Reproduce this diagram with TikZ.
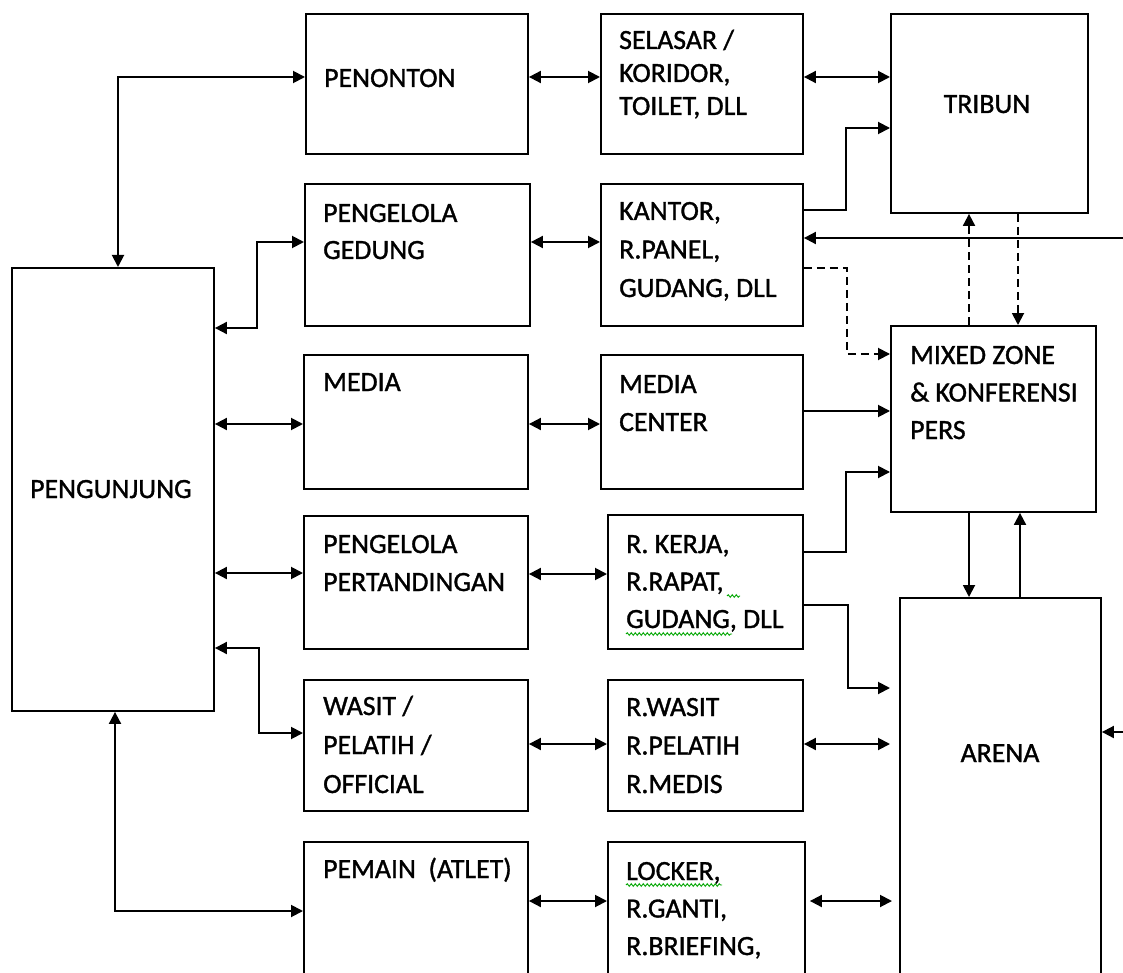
\documentclass[tikz,border=0pt]{standalone}
\usepackage{fontspec}
\setmainfont{Carlito}
\newfontfamily\diagfont{Carlito}[FakeBold=1.2]
\usetikzlibrary{arrows.meta,decorations.pathmorphing}
\newcommand\boxlines[2]{{\diagfont\fontsize{27.8}{#1}\selectfont\renewcommand\arraystretch{1}\begin{tabular}[t]{@{}l@{}}#2\end{tabular}}}
\begin{document}
\begin{tikzpicture}[x=1pt,y=-1pt,
  box/.style={draw, line width=1.9pt, inner sep=0pt, anchor=north west},
  txt/.style={inner sep=0pt, anchor=base west, font=\diagfont\fontsize{27.8}{37}\selectfont},
  con/.style={line width=1.9pt},
  ar/.style={con, -{Triangle[length=12pt,width=12pt]}},
  dar/.style={con, {Triangle[length=12pt,width=12pt]}-{Triangle[length=12pt,width=12pt]}},
  dsh/.style={dash pattern=on 8pt off 5pt},
  squig/.style={draw=green!65!black, line width=0.9pt, decorate, decoration={snake, amplitude=1.3pt, segment length=4pt}}]
\useasboundingbox (0,0) rectangle (1123,973);
\clip (0,0) rectangle (1123,973);
\fill[white] (0,0) rectangle (1123,973);
% boxes
\node[box, minimum width=222pt, minimum height=140pt] (penonton) at (305,13) {};
\node[box, minimum width=225pt, minimum height=142pt] (gedung) at (304,183) {};
\node[box, minimum width=202pt, minimum height=443pt] (pengunjung) at (11,267) {};
\node[box, minimum width=224pt, minimum height=134pt] (media) at (303,354) {};
\node[box, minimum width=224pt, minimum height=133pt] (pertandingan) at (303,515) {};
\node[box, minimum width=224pt, minimum height=131pt] (wasit) at (303,679) {};
\node[box, minimum width=224pt, minimum height=200pt] (pemain) at (303,841) {};
\node[box, minimum width=202pt, minimum height=140pt] (selasar) at (600,13) {};
\node[box, minimum width=202pt, minimum height=142pt] (kantor) at (600,183) {};
\node[box, minimum width=202pt, minimum height=134pt] (mediacenter) at (600,354) {};
\node[box, minimum width=195pt, minimum height=134pt] (kerja) at (607,514) {};
\node[box, minimum width=195pt, minimum height=131pt] (rwasit) at (607,679) {};
\node[box, minimum width=197pt, minimum height=200pt] (locker) at (607,841) {};
\node[box, minimum width=197pt, minimum height=199pt] (tribun) at (890,13) {};
\node[box, minimum width=205pt, minimum height=186pt] (mixed) at (890,325) {};
\node[box, minimum width=201pt, minimum height=400pt] (arena) at (899,597) {};
% texts
\node[txt] (tpenonton) at (324,87) {PENONTON};
\node[txt] (tgedung) at (323,222) {\boxlines{37}{PENGELOLA\\GEDUNG}};
\node[txt] (tpengunjung) at (30,498) {PENGUNJUNG};
\node[txt] (tmedia) at (323,391) {MEDIA};
\node[txt] (tpertandingan) at (323,553) {\boxlines{38}{PENGELOLA\\PERTANDINGAN}};
\node[txt] (twasit) at (323,715) {\boxlines{39}{WASIT /\\PELATIH /\\OFFICIAL}};
\node[txt] (tpemain) at (323,878) {PEMAIN\ \ (ATLET)};
\node[txt] (tselasar) at (619,49) {\boxlines{33}{SELASAR /\\KORIDOR,\\TOILET, DLL}};
\node[txt] (tkantor) at (619,220) {\boxlines{38.5}{KANTOR,\\R.PANEL,\\GUDANG, DLL}};
\node[txt] (tmediacenter) at (619,393) {\boxlines{38}{MEDIA\\CENTER}};
\node[txt, anchor=base] (ttribun) at (987,113) {TRIBUN};
\node[txt] (tmixed) at (910,364) {\boxlines{37.5}{MIXED ZONE\\\& KONFERENSI\\PERS}};
\node[txt] (tkerja) at (626,553) {\boxlines{37.5}{R. KERJA,\\R.RAPAT,\\GUDANG, DLL}};
\node[txt] (trwasit) at (626,716) {\boxlines{38.5}{R.WASIT\\R.PELATIH\\R.MEDIS}};
\node[txt, anchor=base] (tarena) at (1000,762) {ARENA};
\node[txt] (tlocker) at (626,880) {\boxlines{37.5}{LOCKER,\\R.GANTI,\\R.BRIEFING,}};
% spell-check marks
\draw[squig] (626,634) -- (732,634);
\draw[squig] (727,596) -- (740,596);
\draw[squig] (626,885) -- (722,885);
% free ends
\coordinate (e1) at (1123,238);
\coordinate (e2) at (1123,732);
% left connectors
\draw[dar] (pengunjung.north -| 118,0) |- (penonton.west |- 0,77);
\draw[dar] (pengunjung.east |- 0,328) -- (257,328) |- (gedung.west |- 0,242);
\draw[dar] (pengunjung.east |- 0,424) -- (media.west |- 0,424);
\draw[dar] (pengunjung.east |- 0,573) -- (pertandingan.west |- 0,573);
\draw[dar] (pengunjung.east |- 0,648) -- (259,648) |- (wasit.west |- 0,733);
\draw[dar] (pengunjung.south -| 115,0) |- (pemain.west |- 0,911);
% middle connectors
\draw[dar] (penonton.east |- 0,77) -- (selasar.west |- 0,77);
\draw[dar] (gedung.east |- 0,242) -- (kantor.west |- 0,242);
\draw[dar] (media.east |- 0,424) -- (mediacenter.west |- 0,424);
\draw[dar] (pertandingan.east |- 0,574) -- (kerja.west |- 0,574);
\draw[dar] (wasit.east |- 0,744) -- (rwasit.west |- 0,744);
\draw[dar] (pemain.east |- 0,901) -- (locker.west |- 0,901);
% right connectors
\draw[dar] (selasar.east |- 0,77) -- (tribun.west |- 0,77);
\draw[ar] (kantor.east |- 0,210) -- (846,210) |- (tribun.west |- 0,128);
\draw[ar] (e1) -- (kantor.east |- e1);
\draw[ar,dsh] (kantor.east |- 0,268) -- (847,268) |- (mixed.west |- 0,354);
\draw[ar,dsh] (mixed.north -| 969,0) -- (tribun.south -| 969,0);
\draw[ar,dsh] (tribun.south -| 1018,0) -- (mixed.north -| 1018,0);
\draw[ar] (mediacenter.east |- 0,411) -- (mixed.west |- 0,411);
\draw[ar] (kerja.east |- 0,552) -- (846,552) |- (mixed.west |- 0,472);
\draw[ar, shorten >=9pt] (kerja.east |- 0,605) -- (848,605) |- (arena.west |- 0,688);
\draw[dar, shorten >=9pt] (rwasit.east |- 0,744) -- (arena.west |- 0,744);
\draw[dar, shorten >=7pt, shorten <=4pt] (locker.east |- 0,901) -- (arena.west |- 0,901);
\draw[ar] (mixed.south -| 969,0) -- (arena.north -| 969,0);
\draw[ar] (arena.north -| 1020,0) -- (mixed.south -| 1020,0);
\draw[ar] (e2) -- (arena.east |- e2);
\end{tikzpicture}
\end{document}
